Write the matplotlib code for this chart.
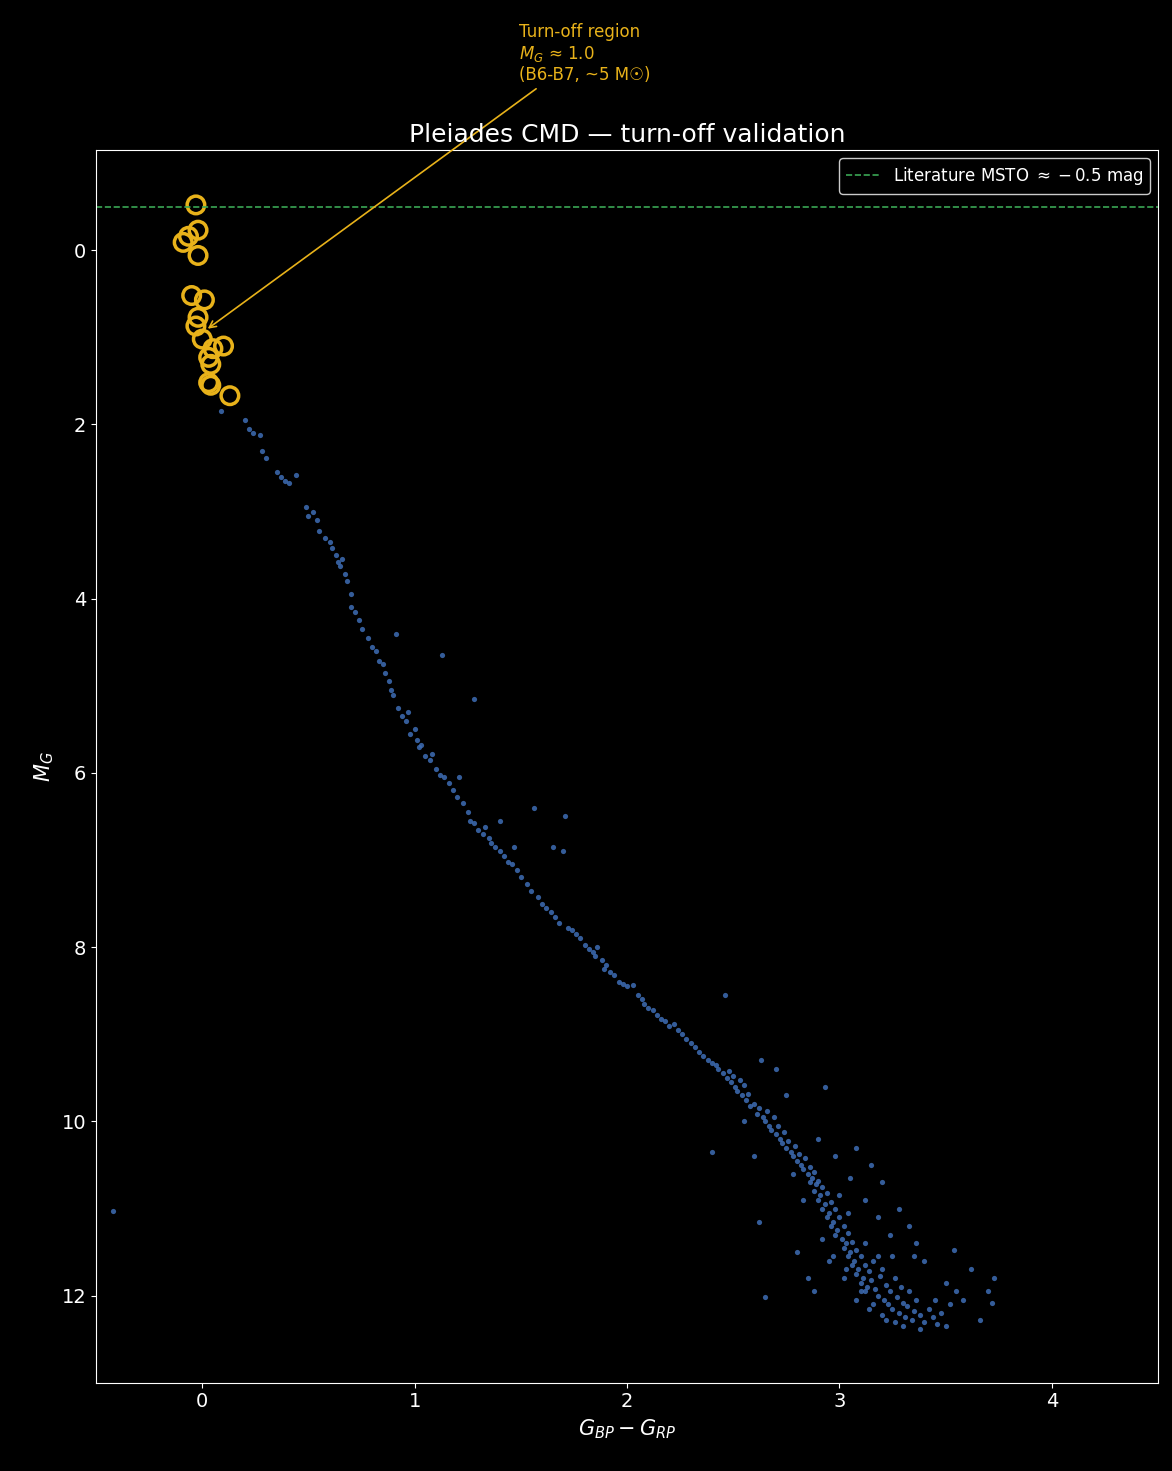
import matplotlib
matplotlib.use("Agg")
import matplotlib.pyplot as plt

# Highlighted turn-off stars
to_color = [-0.03, -0.02, -0.065, -0.09, -0.02, -0.05, 0.01, -0.02, -0.03, 0.00, 0.10, 0.05, 0.03, 0.04, 0.03, 0.04, 0.13]
to_mag   = [-0.52, -0.23, -0.16, -0.09, 0.06, 0.52, 0.57, 0.77, 0.87, 1.02, 1.10, 1.13, 1.23, 1.31, 1.52, 1.55, 1.67]

# Cluster members (colour, abs mag)
ms_pts = """
-0.42 11.03  0.09 1.85  0.20 1.95  0.22 2.05  0.24 2.10  0.27 2.12  0.28 2.30  0.30 2.38  0.35 2.55  0.37 2.60
0.39 2.65  0.41 2.67  0.44 2.58  0.49 2.95  0.50 3.05  0.52 3.00  0.54 3.10  0.55 3.22  0.58 3.30  0.60 3.35
0.61 3.42  0.63 3.50  0.64 3.58  0.65 3.62  0.66 3.55  0.67 3.72  0.68 3.80  0.70 3.95  0.70 4.10  0.72 4.15
0.74 4.25  0.75 4.35  0.78 4.45  0.80 4.55  0.82 4.60  0.83 4.72  0.85 4.75  0.86 4.85  0.88 4.95  0.89 5.05
0.90 5.10  0.91 4.40  0.92 5.25  0.94 5.35  0.96 5.40  0.97 5.30  0.98 5.55  1.00 5.50  1.01 5.62  1.02 5.70
1.03 5.68  1.05 5.80  1.07 5.85  1.08 5.78  1.10 5.95  1.12 6.02  1.13 4.65  1.14 6.05  1.16 6.12  1.18 6.20
1.20 6.28  1.21 6.05  1.23 6.35  1.25 6.45  1.26 6.55  1.28 6.58  1.28 5.15  1.30 6.65  1.32 6.70  1.33 6.62
1.35 6.75  1.36 6.80  1.38 6.85  1.40 6.90  1.40 6.55  1.42 6.95  1.44 7.02  1.46 7.05  1.47 6.85  1.48 7.12
1.50 7.20  1.53 7.28  1.55 7.35  1.56 6.40  1.58 7.42  1.60 7.50  1.62 7.55  1.64 7.60  1.65 6.85  1.66 7.65
1.68 7.72  1.70 6.90  1.71 6.50  1.72 7.78  1.74 7.80  1.76 7.85  1.78 7.90  1.80 7.98  1.82 8.02  1.84 8.05
1.85 8.10  1.86 8.00  1.88 8.15  1.89 8.25  1.90 8.20  1.92 8.28  1.94 8.32  1.96 8.40  1.98 8.42  2.00 8.45
2.03 8.44  2.05 8.55  2.07 8.60  2.08 8.65  2.10 8.70  2.12 8.72  2.14 8.78  2.16 8.82  2.18 8.85  2.20 8.90
2.22 8.88  2.24 8.95  2.26 9.00  2.28 9.05  2.30 9.10  2.32 9.15  2.34 9.20  2.36 9.25  2.38 9.30  2.40 9.33
2.42 9.35  2.43 9.40  2.45 9.45  2.46 8.55  2.47 9.50  2.48 9.42  2.49 9.55  2.50 9.48  2.51 9.60  2.52 9.65
2.53 9.52  2.54 9.70  2.55 9.58  2.56 9.75  2.57 9.68  2.58 9.82  2.60 9.80  2.61 9.92  2.62 9.85  2.63 9.30
2.64 9.95  2.65 10.00  2.66 9.88  2.67 10.05  2.68 10.10  2.69 9.95  2.70 10.15  2.71 10.05  2.72 10.20  2.73 10.25
2.74 10.12  2.75 10.30  2.76 10.22  2.77 10.35  2.78 10.40  2.79 10.28  2.80 10.45  2.81 10.38  2.82 10.50  2.83 10.55
2.84 10.42  2.85 10.60  2.86 10.52  2.86 10.70  2.87 10.65  2.88 10.58  2.88 10.80  2.89 10.72  2.90 10.68  2.90 10.90
2.91 10.85  2.92 10.75  2.92 11.00  2.93 10.95  2.94 10.82  2.94 11.10  2.95 11.05  2.96 10.92  2.96 11.20  2.97 11.15
2.98 11.00  2.98 11.30  2.99 11.25  3.00 11.10  3.00 10.85  3.01 11.35  3.02 11.20  3.02 11.45  3.03 11.40  3.04 11.28
3.04 11.55  3.05 11.50  3.06 11.38  3.06 11.65  3.07 11.60  3.08 11.48  3.08 11.75  3.09 11.70  3.10 11.55  3.10 11.85
3.11 11.80  3.12 11.65  3.12 11.95  3.13 11.90  3.14 11.72  3.15 11.82  3.16 11.60  3.17 11.92  3.18 12.00  3.19 11.78
3.20 11.70  3.21 12.05  3.22 11.88  3.23 12.10  3.24 11.95  3.25 12.15  3.26 11.80  3.27 12.02  3.28 12.20  3.29 11.90
3.30 12.08  3.31 12.25  3.32 12.12  3.33 11.95  3.34 12.28  3.35 12.18  3.36 12.05  3.38 12.22  3.40 12.30  3.42 12.15
3.44 12.25  3.46 12.32  3.48 12.20  3.50 12.35  3.52 12.10  3.55 11.95  3.58 12.05  3.62 11.70  3.66 12.28  3.70 11.95
3.72 12.08  3.73 11.80  3.54 11.48  3.40 11.60  3.33 11.20  3.28 11.00  3.20 10.70  3.15 10.50  3.08 10.30  2.98 10.40
2.93 9.60  2.90 10.20  3.24 11.30  3.18 11.10  3.35 11.55  3.12 10.90  3.05 10.65  2.75 9.70  2.70 9.40  2.60 10.40
2.55 10.00  2.40 10.35  2.80 11.50  2.85 11.80  2.88 11.95  2.62 11.15  2.65 12.02  2.95 11.60  3.02 11.80  3.08 12.05
3.14 12.15  3.20 12.22  3.26 12.30  3.30 12.35  3.38 12.38  3.45 12.05  3.50 11.85  3.36 11.40  3.25 11.55  2.78 10.60
2.83 10.90  2.92 11.35  2.97 11.55  3.03 11.70  3.10 11.95  3.16 12.10  3.22 12.28  3.12 11.40  3.18 11.55  3.04 11.05
"""
_v = [float(t) for t in ms_pts.split()]
ms_color = _v[0::2]
ms_mag = _v[1::2]

msto_lit = -0.5

plt.style.use("dark_background")
fig, ax = plt.subplots(figsize=(11.72, 14.71), dpi=100)
fig.subplots_adjust(left=0.082, right=0.988, top=0.898, bottom=0.06)
ax.scatter(ms_color, ms_mag, s=14, color="#3e6db5", alpha=0.85, linewidths=0)
ax.scatter(to_color, to_mag, s=160, facecolors="none", edgecolors="#e8b21a", linewidths=2.5)
ax.axhline(msto_lit, color="#3aa655", ls="--", lw=1.2, label=r"Literature MSTO $\approx -0.5$ mag")
ax.annotate("Turn-off region\n$M_G$ ≈ 1.0\n(B6-B7, ~5 M☉)", xy=(0.015, 0.92), xytext=(1.49, -1.95),
            color="#e8b21a", fontsize=12, annotation_clip=False,
            arrowprops=dict(arrowstyle="->", color="#e8b21a", lw=1.2),
            family=["DejaVu Sans"])
ax.set_xlim(-0.5, 4.5)
ax.set_ylim(13.0, -1.15)
ax.set_xlabel(r"$G_{BP}-G_{RP}$", fontsize=15)
ax.set_ylabel(r"$M_G$", fontsize=15)
ax.set_title("Pleiades CMD — turn-off validation", fontsize=18)
ax.tick_params(labelsize=14)
ax.legend(loc="upper right", fontsize=12, facecolor="black", edgecolor="white")
fig.savefig("out.png", dpi=100, facecolor="black")
